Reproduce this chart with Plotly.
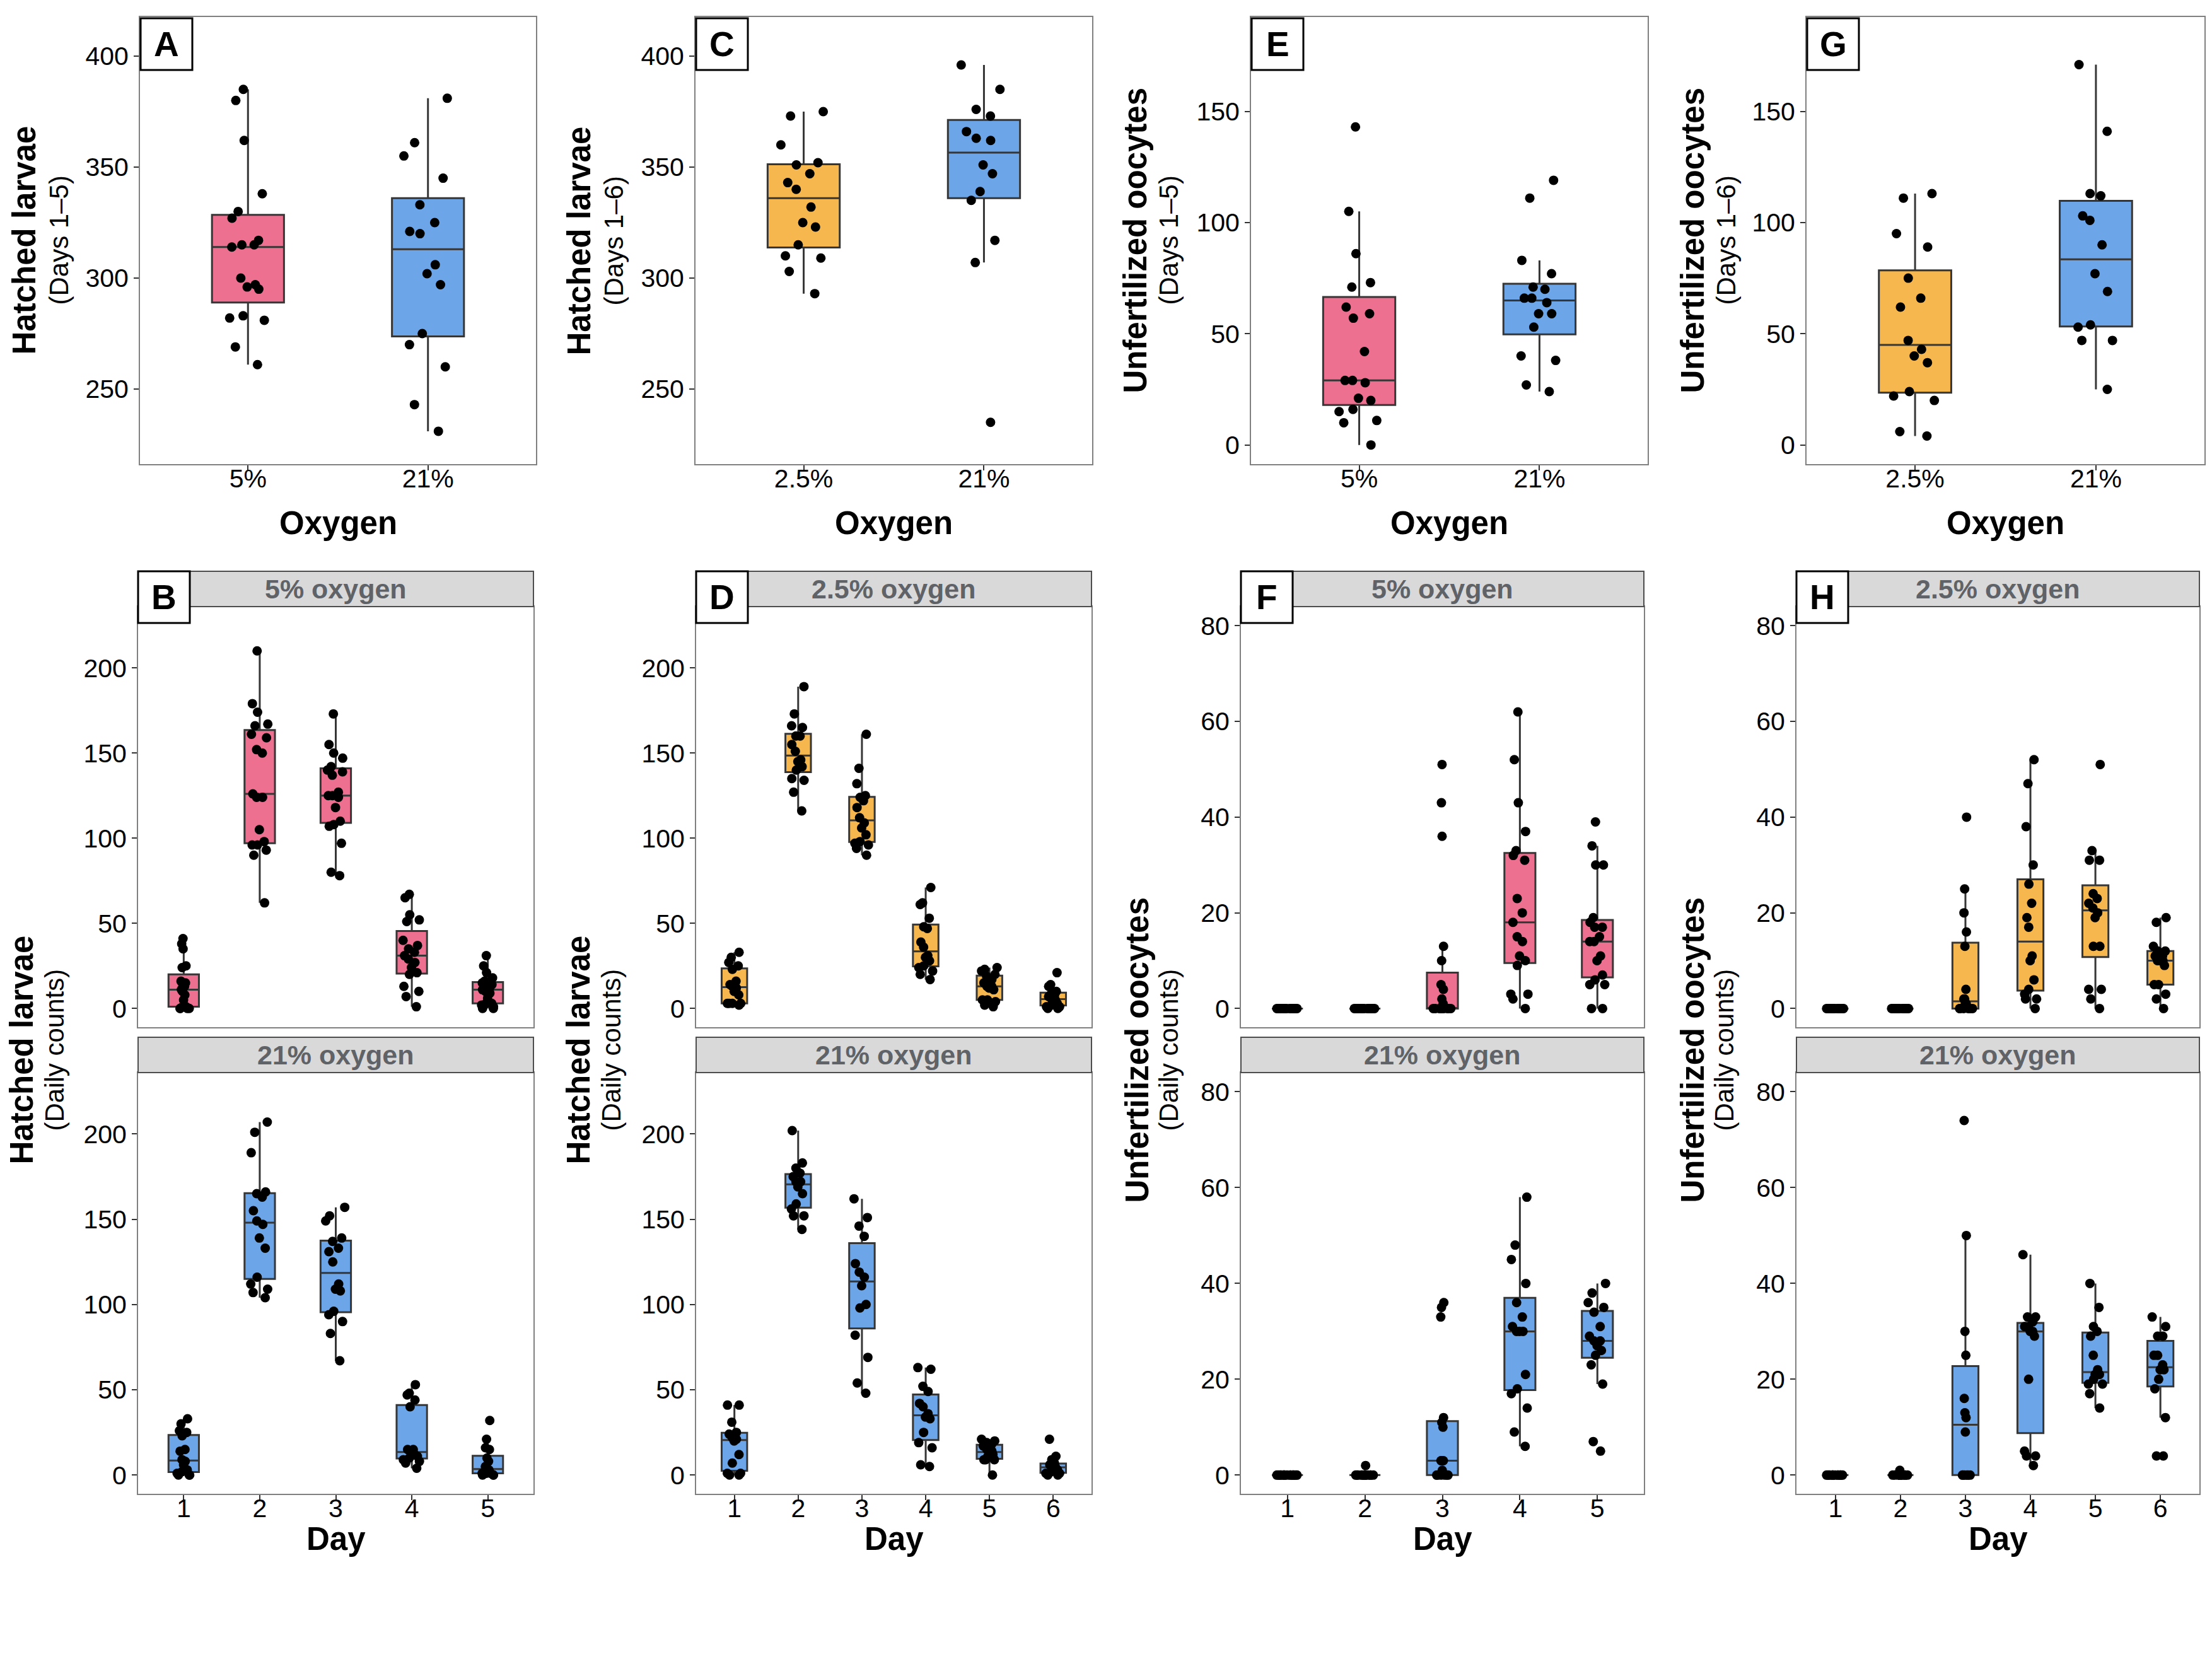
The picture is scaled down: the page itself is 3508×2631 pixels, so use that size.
import numpy as np
import plotly.graph_objects as go

W, H = 3508, 2631

# ------------------------------------------------------------------ data
OXY_5 = ['5%', '21%']
OXY_25 = ['2.5%', '21%']
DAYS5 = ['1', '2', '3', '4', '5']
DAYS6 = ['1', '2', '3', '4', '5', '6']

# Panel A: hatched larvae, days 1-5
A_5pct = [385, 380, 362, 338, 330, 327, 317, 315, 315, 314, 300, 297, 296, 295, 283, 282, 281, 269, 261]
A_21pct = [381, 361, 355, 345, 333, 325, 321, 320, 306, 302, 297, 275, 270, 260, 243, 231]
# Panel C: hatched larvae, days 1-6
C_2_5pct = [375, 373, 360, 352, 351, 347, 343, 340, 332, 325, 323, 315, 310, 309, 303, 293]
C_21pct = [396, 385, 376, 373, 366, 363, 362, 351, 347, 339, 335, 317, 307, 235]
# Panel E: unfertilized oocytes, days 1-5
E_5pct = [143, 105, 86, 73, 71, 62, 59, 57, 42, 29, 29, 28, 21, 20, 16, 15, 11, 10, 0]
E_21pct = [119, 111, 83, 77, 71, 70, 66, 66, 64, 59, 59, 53, 40, 38, 27, 24]
# Panel G: unfertilized oocytes, days 1-6
G_2_5pct = [113, 111, 95, 89, 75, 66, 62, 47, 43, 40, 37, 24, 22, 20, 6, 4]
G_21pct = [171, 141, 113, 112, 103, 101, 90, 77, 69, 54, 53, 47, 47, 25]

# Panel B: hatched larvae daily counts (one list per day)
B_5pct = [
    [41, 38, 35, 25, 24, 16, 15, 14, 13, 11, 10, 8, 5, 1, 1, 0, 0, 0, 0],
    [210, 179, 174, 167, 166, 161, 159, 152, 150, 126, 124, 124, 105, 98, 96, 96, 93, 90, 62],
    [173, 155, 150, 147, 142, 140, 139, 137, 127, 125, 125, 124, 118, 110, 108, 107, 97, 80, 78],
    [67, 65, 55, 52, 51, 40, 37, 35, 33, 31, 29, 27, 24, 21, 20, 13, 10, 7, 1],
    [31, 25, 21, 18, 16, 15, 14, 13, 12, 11, 10, 9, 6, 3, 3, 2, 1, 0, 0],
]
B_21pct = [
    [33, 30, 26, 25, 23, 15, 14, 9, 8, 6, 3, 2, 1, 0, 0, 0],
    [207, 201, 189, 166, 165, 163, 155, 149, 147, 139, 133, 116, 112, 109, 107, 104],
    [157, 152, 149, 139, 137, 133, 131, 125, 112, 109, 108, 96, 94, 90, 83, 67],
    [53, 48, 47, 44, 40, 15, 15, 14, 13, 12, 11, 10, 9, 8, 7, 4],
    [32, 21, 16, 15, 10, 8, 5, 4, 3, 2, 1, 1, 1, 0, 0, 0],
]
# Panel D: hatched larvae daily counts
D_2_5pct = [
    [33, 30, 27, 25, 23, 16, 14, 13, 12, 10, 8, 3, 3, 3, 3, 2],
    [189, 173, 166, 165, 160, 160, 155, 151, 146, 145, 142, 140, 135, 134, 127, 116],
    [161, 141, 132, 125, 124, 122, 118, 112, 109, 106, 102, 98, 97, 96, 94, 90],
    [71, 62, 61, 53, 48, 47, 39, 36, 31, 30, 28, 25, 24, 22, 20, 17],
    [24, 23, 22, 20, 19, 17, 15, 13, 13, 12, 11, 5, 5, 4, 2, 1],
    [21, 14, 13, 10, 9, 8, 7, 6, 5, 4, 3, 2, 1, 1, 0, 0],
]
D_21pct = [
    [41, 41, 31, 25, 24, 22, 21, 20, 12, 7, 1, 1, 0, 0],
    [202, 183, 180, 177, 175, 172, 172, 169, 165, 159, 156, 152, 152, 144],
    [162, 151, 146, 140, 124, 119, 116, 111, 100, 98, 82, 69, 54, 48],
    [63, 62, 52, 49, 42, 40, 36, 34, 33, 25, 19, 16, 6, 5],
    [21, 20, 19, 18, 17, 15, 14, 13, 12, 11, 9, 9, 9, 0],
    [21, 11, 9, 7, 6, 5, 5, 4, 3, 2, 1, 1, 0, 0],
]
# Panel F: unfertilized oocytes daily counts
F_5pct = [
    [0, 0, 0, 0, 0, 0, 0, 0, 0, 0, 0, 0, 0, 0, 0, 0, 0, 0, 0],
    [0, 0, 0, 0, 0, 0, 0, 0, 0, 0, 0, 0, 0, 0, 0, 0, 0, 0, 0],
    [51, 43, 36, 13, 10, 5, 4, 2, 1, 0, 0, 0, 0, 0, 0, 0, 0, 0, 0],
    [62, 52, 43, 37, 33, 32, 31, 23, 20, 18, 15, 14, 11, 10, 9, 3, 3, 2, 0],
    [39, 34, 30, 30, 19, 18, 17, 17, 15, 14, 14, 11, 10, 7, 6, 5, 5, 0, 0],
]
F_21pct = [
    [0, 0, 0, 0, 0, 0, 0, 0, 0, 0, 0, 0, 0, 0, 0, 0],
    [2, 0, 0, 0, 0, 0, 0, 0, 0, 0, 0, 0, 0, 0, 0, 0],
    [36, 35, 33, 12, 11, 10, 3, 3, 3, 1, 0, 0, 0, 0, 0, 0],
    [58, 48, 45, 40, 36, 33, 31, 30, 30, 30, 21, 18, 17, 14, 9, 6],
    [40, 38, 36, 35, 34, 31, 29, 28, 28, 27, 26, 25, 23, 19, 7, 5],
]
# Panel H: unfertilized oocytes daily counts
H_2_5pct = [
    [0, 0, 0, 0, 0, 0, 0, 0, 0, 0, 0, 0, 0, 0, 0, 0],
    [0, 0, 0, 0, 0, 0, 0, 0, 0, 0, 0, 0, 0, 0, 0, 0],
    [40, 25, 20, 16, 13, 4, 2, 2, 1, 1, 0, 0, 0, 0, 0, 0],
    [52, 47, 38, 30, 26, 22, 19, 17, 11, 10, 6, 4, 3, 2, 2, 0],
    [51, 33, 31, 31, 24, 23, 22, 21, 20, 19, 13, 13, 4, 4, 2, 0],
    [19, 18, 13, 12, 12, 11, 11, 10, 10, 10, 9, 5, 5, 3, 2, 0],
]
H_21pct = [
    [0, 0, 0, 0, 0, 0, 0, 0, 0, 0, 0, 0, 0, 0],
    [1, 0, 0, 0, 0, 0, 0, 0, 0, 0, 0, 0, 0, 0],
    [74, 50, 30, 25, 16, 13, 12, 9, 0, 0, 0, 0, 0, 0],
    [46, 33, 33, 32, 31, 31, 30, 30, 29, 20, 5, 4, 4, 2],
    [40, 35, 31, 30, 29, 25, 22, 21, 21, 20, 19, 19, 17, 14],
    [33, 31, 29, 29, 25, 25, 22, 23, 22, 20, 18, 12, 4, 4],
]

# ------------------------------------------------------------------ style
PINK = '#EE7090'
BLUE = '#6CA6E8'
ORANGE = '#F6B84E'
FONT = 'Liberation Sans'
BOXLINE = '#363636'
BORDER = '#808080'

fig = go.Figure()
layout = dict(
    width=W, height=H, margin=dict(l=0, r=0, t=0, b=0),
    paper_bgcolor='white', plot_bgcolor='white', showlegend=False,
    boxmode='overlay', font=dict(family=FONT, color='black'),
)
shapes, annotations = [], []


def fx(px):
    return px / W


def fy(py):
    return 1 - py / H


def stats(vals):
    a = np.sort(np.asarray(vals, dtype=float))
    q1, med, q3 = np.percentile(a, [25, 50, 75])
    iqr = q3 - q1
    lo = a[a >= q1 - 1.5 * iqr].min()
    hi = a[a <= q3 + 1.5 * iqr].max()
    return q1, med, q3, lo, hi


axis_count = [0]


def add_panel(x0, x1, y0, y1, yrange, ytickvals, xlabels, groups, colors, show_x):
    axis_count[0] += 1
    k = axis_count[0]
    xa = 'x' if k == 1 else f'x{k}'
    ya = 'y' if k == 1 else f'y{k}'
    n = len(xlabels)
    layout['xaxis' if k == 1 else f'xaxis{k}'] = dict(
        domain=[fx(x0), fx(x1)], anchor=ya, range=[0.4, n + 0.6],
        tickmode='array', tickvals=list(range(1, n + 1)), ticktext=xlabels,
        showticklabels=show_x, ticks='outside' if show_x else '',
        ticklen=8, tickwidth=2, tickcolor='#333333', ticklabelstandoff=-22,
        tickfont=dict(family=FONT, size=41, color='black'),
        showline=True, mirror=True, linecolor=BORDER, linewidth=2,
        showgrid=False, zeroline=False, fixedrange=True,
    )
    layout['yaxis' if k == 1 else f'yaxis{k}'] = dict(
        domain=[fy(y1), fy(y0)], anchor=xa, range=yrange,
        tickmode='array', tickvals=ytickvals,
        ticks='outside', ticklen=8, tickwidth=2, tickcolor='#333333',
        tickfont=dict(family=FONT, size=41, color='black'),
        showline=True, mirror=True, linecolor=BORDER, linewidth=2,
        showgrid=False, zeroline=False, fixedrange=True,
    )
    for i, vals in enumerate(groups):
        pos = i + 1
        color = colors[i]
        q1, med, q3, lo, hi = stats(vals)
        fig.add_trace(go.Box(
            x=[pos], q1=[q1], median=[med], q3=[q3], lowerfence=[lo], upperfence=[hi],
            orientation='v', width=0.4, fillcolor=color, boxpoints=False,
            line=dict(color=BOXLINE, width=3), whiskerwidth=0,
            xaxis=xa, yaxis=ya, hoverinfo='skip',
        ))
        fig.add_trace(go.Box(
            x=[pos] * len(vals), y=vals, orientation='v', width=0.4,
            boxpoints='all', jitter=0.7, pointpos=0,
            fillcolor='rgba(0,0,0,0)', line=dict(color='rgba(0,0,0,0)', width=0),
            whiskerwidth=0, marker=dict(color='black', size=15, line=dict(width=0)),
            xaxis=xa, yaxis=ya, hoverinfo='skip',
        ))


def label_box(x0, y0, letter):
    shapes.append(dict(type='rect', xref='paper', yref='paper',
                       x0=fx(x0), x1=fx(x0 + 82), y0=fy(y0 + 82), y1=fy(y0),
                       fillcolor='white', line=dict(color='black', width=3), layer='above'))
    annotations.append(dict(xref='paper', yref='paper', x=fx(x0 + 41), y=fy(y0 + 41),
                            text=f'<b>{letter}</b>', showarrow=False,
                            xanchor='center', yanchor='middle',
                            font=dict(family=FONT, size=55, color='black')))


def strip(x0, x1, y0, y1, text):
    shapes.append(dict(type='rect', xref='paper', yref='paper',
                       x0=fx(x0), x1=fx(x1), y0=fy(y1), y1=fy(y0),
                       fillcolor='#D9D9D9', line=dict(color='#4d4d4d', width=2), layer='above'))
    annotations.append(dict(xref='paper', yref='paper', x=fx((x0 + x1) / 2), y=fy((y0 + y1) / 2),
                            text=f'<b>{text}</b>', showarrow=False,
                            xanchor='center', yanchor='middle',
                            font=dict(family=FONT, size=43, color='#5f6368')))


def ytitle(xmain, xsub, yc, main, sub):
    annotations.append(dict(xref='paper', yref='paper', x=fx(xmain), y=fy(yc),
                            text=f'<b>{main}</b>', showarrow=False, textangle=-90,
                            xanchor='center', yanchor='middle',
                            font=dict(family=FONT, size=51, color='black')))
    annotations.append(dict(xref='paper', yref='paper', x=fx(xsub), y=fy(yc),
                            text=sub, showarrow=False, textangle=-90,
                            xanchor='center', yanchor='middle',
                            font=dict(family=FONT, size=42, color='black')))


def xtitle(xc, yc, text):
    annotations.append(dict(xref='paper', yref='paper', x=fx(xc), y=fy(yc),
                            text=f'<b>{text}</b>', showarrow=False,
                            xanchor='center', yanchor='middle',
                            font=dict(family=FONT, size=51, color='black')))


# ------------------------------------------------------------------ top row
TOP_Y0, TOP_Y1 = 27, 736
top_panels = [
    (222, 850, [216.2, 417.6], [250, 300, 350, 400], OXY_5, [A_5pct, A_21pct], [PINK, BLUE], 'A',
     (38, 93), 'Hatched larvae', '(Days 1\u20135)'),
    (1103, 1732, [216.2, 417.6], [250, 300, 350, 400], OXY_25, [C_2_5pct, C_21pct], [ORANGE, BLUE], 'C',
     (918, 973), 'Hatched larvae', '(Days 1\u20136)'),
    (1984, 2613, [-8.6, 192.4], [0, 50, 100, 150], OXY_5, [E_5pct, E_21pct], [PINK, BLUE], 'E',
     (1800, 1853), 'Unfertilized oocytes', '(Days 1\u20135)'),
    (2865, 3496, [-8.6, 192.4], [0, 50, 100, 150], OXY_25, [G_2_5pct, G_21pct], [ORANGE, BLUE], 'G',
     (2684, 2737), 'Unfertilized oocytes', '(Days 1\u20136)'),
]
for x0, x1, yr, yt, labs, groups, cols, letter, tx, main, sub in top_panels:
    add_panel(x0, x1, TOP_Y0, TOP_Y1, yr, yt, labs, groups, cols, True)
    label_box(x0 + 1, TOP_Y0 + 2, letter)
    ytitle(tx[0], tx[1], (TOP_Y0 + TOP_Y1) / 2, main, sub)
    xtitle((x0 + x1) / 2, 830, 'Oxygen')

# ------------------------------------------------------------------ bottom rows (facets)
S1_Y0, S1_Y1 = 906, 962
P1_Y0, P1_Y1 = 962, 1629
S2_Y0, S2_Y1 = 1645, 1701
P2_Y0, P2_Y1 = 1701, 2369
bottom_panels = [
    (219, 846, [-11, 236], [0, 50, 100, 150, 200], DAYS5, B_5pct, B_21pct, PINK, '5% oxygen', 'B',
     (34, 86), 'Hatched larvae'),
    (1104, 1731, [-11, 236], [0, 50, 100, 150, 200], DAYS6, D_2_5pct, D_21pct, ORANGE, '2.5% oxygen', 'D',
     (917, 969), 'Hatched larvae'),
    (1968, 2607, [-3.9, 84], [0, 20, 40, 60, 80], DAYS5, F_5pct, F_21pct, PINK, '5% oxygen', 'F',
     (1803, 1853), 'Unfertilized oocytes'),
    (2849, 3488, [-3.9, 84], [0, 20, 40, 60, 80], DAYS6, H_2_5pct, H_21pct, ORANGE, '2.5% oxygen', 'H',
     (2684, 2734), 'Unfertilized oocytes'),
]
for x0, x1, yr, yt, days, low, high, col, stxt, letter, tx, main in bottom_panels:
    add_panel(x0, x1, P1_Y0, P1_Y1, yr, yt, days, low, [col] * len(days), False)
    add_panel(x0, x1, P2_Y0, P2_Y1, yr, yt, days, high, [BLUE] * len(days), True)
    strip(x0, x1, S1_Y0, S1_Y1, stxt)
    strip(x0, x1, S2_Y0, S2_Y1, '21% oxygen')
    label_box(x0, S1_Y0, letter)
    ytitle(tx[0], tx[1], (P1_Y0 + P2_Y1) / 2, main, '(Daily counts)')
    xtitle((x0 + x1) / 2, 2440, 'Day')

layout['shapes'] = shapes
layout['annotations'] = annotations
fig.update_layout(**layout)
fig.update_traces(showlegend=False)
fig.write_html(
    'out.html',
    config={'displayModeBar': False, 'staticPlot': True},
    post_script="document.body.style.margin='0';document.body.style.overflow='hidden';",
)
